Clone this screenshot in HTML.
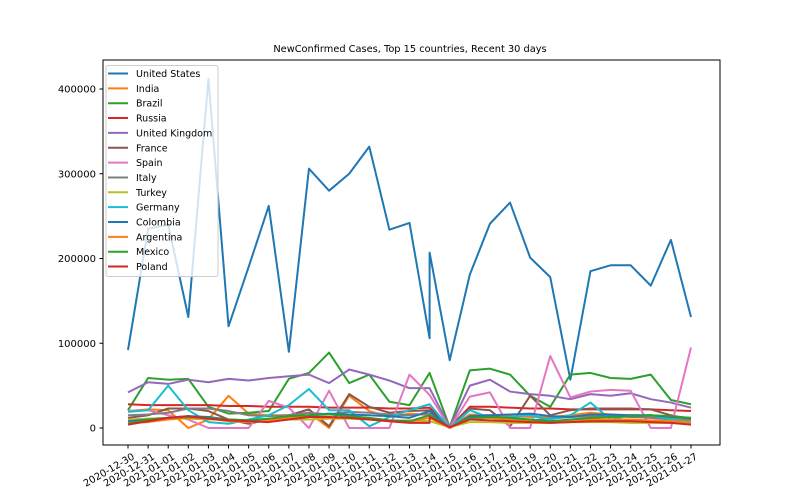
<!DOCTYPE html>
<html><head><meta charset="utf-8"><style>
body{margin:0;background:#fff;}
svg{display:block;font-family:"DejaVu Sans","Liberation Sans",sans-serif;}
</style></head><body>
<svg id="chart" width="800" height="500" viewBox="0 0 800 500">
<rect width="800" height="500" fill="#fff"/>
<text x="410" y="52" font-size="9.8" text-anchor="middle">NewConfirmed Cases, Top 15 countries, Recent 30 days</text>
<defs><clipPath id="clip"><rect x="103" y="60" width="617" height="385"/></clipPath></defs>
<g id="yaxis"></g>
<g id="xaxis"></g>
<g id="series" clip-path="url(#clip)"></g>
<rect x="103" y="60" width="617" height="385" fill="none" stroke="#000" stroke-width="1"/>
<g id="legend"></g>
</svg>
<script>
const dates=["2020-12-30","2020-12-31","2021-01-01","2021-01-02","2021-01-03","2021-01-04","2021-01-05","2021-01-06","2021-01-07","2021-01-08","2021-01-09","2021-01-10","2021-01-11","2021-01-12","2021-01-13","2021-01-14","2021-01-15","2021-01-16","2021-01-17","2021-01-18","2021-01-19","2021-01-20","2021-01-21","2021-01-22","2021-01-23","2021-01-24","2021-01-25","2021-01-26","2021-01-27"];
const pointDateIndex=[0,1,2,3,4,5,6,7,8,9,10,11,12,13,14,15,15,16,17,18,19,20,21,22,23,24,25,26,27,28];
const yTicks=[0,100000,200000,300000,400000];
const countries=["United States","India","Brazil","Russia","United Kingdom","France","Spain","Italy","Turkey","Germany","Colombia","Argentina","Mexico","Poland"];
const colors=["#1f77b4","#ff7f0e","#2ca02c","#d62728","#9467bd","#8c564b","#e377c2","#7f7f7f","#bcbd22","#17becf","#1f77b4","#ff7f0e","#2ca02c","#d62728"];
const usK=[92,235,240,131,412,120,190,262,90,306,280,300,332,234,242,106,207,80,181,241,266,201,178,57,185,192,192,168,222,131];
const indiaK=[20,22,21,0,10,38,17,15,15,18,0,38,20,13,17,15,15,1,16,15,14,13,13,15,18,16,14,13,12,11];
const brazilK=[21,59,57,58,25,17,18,20,58,65,89,53,63,31,27,65,65,1,68,70,63,38,25,63,65,59,58,63,33,28];
const russiaK=[28,27,27,27,27,26,26,25,25,25,24,24,24,23,23,24,24,1,25,25,24,23,23,22,22,22,22,22,21,20];
const ukK=[42,54,52,57,54,58,56,59,61,63,53,69,63,56,47,47,47,1,50,57,43,40,38,34,40,38,41,34,30,24];
const franceK=[12,15,23,23,20,10,5,10,15,22,2,40,25,18,20,21,21,1,23,21,2,38,15,21,23,23,23,22,15,10];
const spainK=[20,21,15,10,0,0,0,32,24,0,44,0,0,0,63,39,39,0,37,42,0,0,85,36,43,45,44,0,0,95];
const italyK=[15,16,18,23,23,20,15,14,15,18,16,19,18,16,15,17,17,1,13,12,10,9,11,13,14,14,13,12,10,9];
const turkeyK=[10,11,12,11,10,10,9,9,10,10,11,11,10,9,9,8,8,1,7,7,6,6,6,7,7,7,6,6,6,5];
const germanyK=[19,21,50,21,7,5,10,15,27,46,21,21,2,13,21,28,28,0,21,12,13,15,10,15,30,10,15,15,10,8];
const colombiaK=[8,10,12,14,13,10,9,10,13,15,17,16,15,14,12,20,20,0,14,15,16,17,14,13,16,16,15,15,13,12];
const argentinaK=[6,7,10,12,11,8,7,9,12,13,12,12,10,8,7,12,12,0,11,12,10,8,6,8,10,10,10,9,8,7];
const mexicoK=[5,10,12,13,12,10,9,11,14,15,16,14,12,9,8,15,15,1,12,13,12,10,8,10,12,13,14,15,14,12];
const polandK=[4,8,12,14,11,9,8,7,10,13,13,12,10,8,6,6,13,1,10,9,8,7,6,7,8,8,8,7,6,4];
const seriesK=[usK,indiaK,brazilK,russiaK,ukK,franceK,spainK,italyK,turkeyK,germanyK,colombiaK,argentinaK,mexicoK,polandK];

const NS="http://www.w3.org/2000/svg";
const X0=128,DX=(691-128)/28,Y0=428,YS=(428-89)/400000;
function xs(i){return X0+i*DX;}
function ys(v){return Y0-v*YS;}
function mk(tag,attrs,parent){const e=document.createElementNS(NS,tag);for(const k in attrs)e.setAttribute(k,attrs[k]);parent.appendChild(e);return e;}

const ya=document.getElementById('yaxis');
yTicks.forEach(v=>{
  const y=ys(v);
  const t=mk('line',{x1:99.5,x2:103,y1:y,y2:y,stroke:'#000'},ya);
  
  
  const l=mk('text',{x:96,y:y+3.5,'font-size':10,'text-anchor':'end'},ya);
  l.textContent=String(v);
  
  
});
const xa=document.getElementById('xaxis');
dates.forEach((d,i)=>{
  const x=xs(i);
  const t=mk('line',{x1:x,x2:x,y1:445,y2:448.5,stroke:'#000'},xa);
  
  
  const l=mk('text',{x:x+4,y:453,'font-size':9.8,'text-anchor':'end',transform:`rotate(-30 ${x+4} 453)`,'dominant-baseline':'hanging'},xa);
  l.textContent=d;
  
  
});
const sg=document.getElementById('series');
seriesK.forEach((arr,s)=>{
  const pts=arr.map((v,j)=>xs(pointDateIndex[j]).toFixed(2)+','+ys(v*1000).toFixed(2)).join(' ');
  const p=mk('polyline',{points:pts,fill:'none',stroke:colors[s],'stroke-width':2,'stroke-linejoin':'round'},sg);
  
  
});
const lg=document.getElementById('legend');
const box=mk('rect',{x:106,y:65.5,width:112,height:211,rx:2,fill:'#fff','fill-opacity':0.8,stroke:'#ccc'},lg);


countries.forEach((c,i)=>{
  const y=73.5+i*14.85;
  const ln=mk('line',{x1:108,x2:128,y1:y,y2:y,stroke:colors[i],'stroke-width':2},lg);
  
  
  const t=mk('text',{x:136,y:y+3.5,'font-size':9.5},lg);
  t.textContent=c;
  
  
});
</script>
</body></html>
